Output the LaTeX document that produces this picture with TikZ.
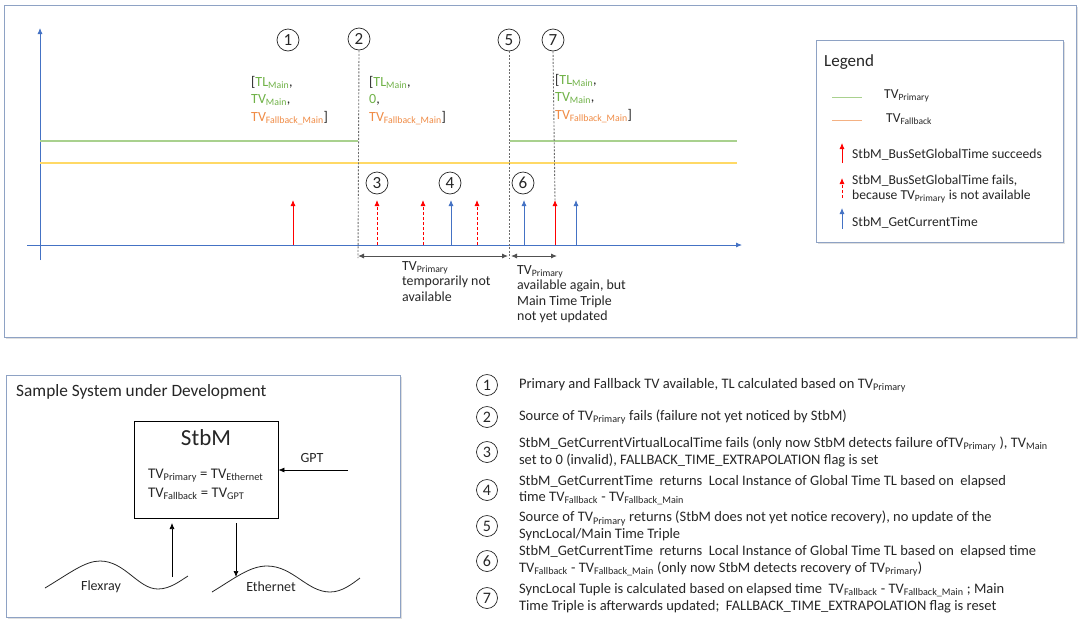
\documentclass[tikz,border=0pt]{standalone}
\usepackage{fontspec}
\setmainfont{Carlito}
\usetikzlibrary{positioning,shadows,arrows.meta}
\definecolor{axisblue}{HTML}{4472C4}
\definecolor{primgreen}{HTML}{A9D18E}
\definecolor{fallyellow}{HTML}{FFD966}
\definecolor{fallorange}{HTML}{F4B183}
\definecolor{txtgreen}{RGB}{112,178,72}
\definecolor{txtorange}{RGB}{240,140,70}
\definecolor{framegray}{HTML}{8EA2C4}
\definecolor{txtgray}{HTML}{262626}
\newcommand{\sbs}[1]{\textsubscript{#1}}
\newcommand{\tgr}[1]{\textcolor{txtgreen}{#1}}
\newcommand{\tor}[1]{\textcolor{txtorange}{#1}}
\tikzset{
  frame/.style     = {draw=framegray, line width=0.9pt, fill=white,
                      drop shadow={shadow xshift=2pt, shadow yshift=-2pt, opacity=0.25}},
  num/.style       = {circle, draw=txtgray, line width=0.7pt, inner sep=0pt,
                      minimum size=22pt, font=\fontsize{17}{17}\selectfont},
  listnum/.style   = {num, minimum size=21pt, font=\fontsize{16}{16}\selectfont},
  item/.style      = {align=left, inner sep=0pt, text=txtgray,
                      font=\fontsize{14.5}{16.5}\selectfont},
  lgditem/.style   = {item, anchor=west, font=\fontsize{13.6}{15.5}\selectfont},
  triple/.style    = {align=left, anchor=north west, inner sep=0pt,
                      font=\fontsize{14}{17.5}\selectfont},
  note/.style      = {align=left, anchor=north west, inner sep=0pt, text=txtgray,
                      font=\fontsize{13.9}{15.5}\selectfont},
  marker/.style    = {draw=gray!85!black, line width=0.9pt, dash pattern=on 2pt off 1.5pt},
  span/.style      = {draw=txtgray!80, line width=0.9pt, {Latex[length=6pt,width=5pt]}-{Latex[length=6pt,width=5pt]}},
  evtip/.style     = {-{Latex[length=6pt,width=5pt]}},
  okev/.style      = {draw=red, line width=0.8pt, evtip},
  failev/.style    = {draw=red, line width=0.8pt, dash pattern=on 3pt off 2pt, evtip},
  getev/.style     = {draw=axisblue, line width=0.8pt, evtip},
  sysarrow/.style  = {draw=black, line width=0.7pt, -{Latex[length=6pt,width=5pt]}},
  wave/.style      = {draw=txtgray, line width=0.8pt},
}

\begin{document}
\begin{tikzpicture}
  [
    x = 1pt,
    y = -1pt,
    every node/.style = {text=txtgray}
  ]
  \useasboundingbox (0,0) rectangle (1080,630);

  % time chart
  \draw[frame] (4,5) rectangle (1076,337);
  \coordinate (yaxb) at (40,260);
  \coordinate (yaxt) at (40,28);
  \coordinate (xaxl) at (27,245);
  \coordinate (xaxr) at (742,245);
  \draw[axisblue, line width=0.8pt, evtip] (yaxb) -- (yaxt);
  \draw[axisblue, line width=0.8pt, evtip] (xaxl) -- (xaxr);

  % TV lines
  \draw[primgreen, line width=1.2pt] (40,141) -- (358,141);
  \draw[primgreen, line width=1.2pt] (510,141) -- (737,141);
  \draw[fallyellow, line width=1.2pt] (40,163) -- (737,163);

  % circled steps and markers
  \node[num] (n1) at (288,40) {1};
  \node[num] (n2) at (359,39) {2};
  \node[num] (n5) at (509,40) {5};
  \node[num] (n7) at (553,40) {7};
  \node[num] (n3) at (377,183) {3};
  \node[num] (n4) at (450,183) {4};
  \node[num] (n6) at (523,183) {6};
  \coordinate (m2) at (358,258);
  \coordinate (m5) at (509,258);
  \coordinate (m7) at (555,200);
  \draw[marker] (n2.south) -- (m2);
  \draw[marker] (n5.south) -- (m5);
  \draw[marker] (n7.south) -- (m7);

  % events on the time axis
  \foreach \x/\s [count=\i] in {293/okev, 377/failev, 423/failev, 451/getev,
                                477/failev, 524/getev, 555/okev, 576/getev}
  {
    \coordinate (evb\i) at (\x,245);
    \coordinate (evt\i) at (\x,200);
    \draw[\s] (evb\i) -- (evt\i);
  }

  % time triples
  \node[triple] (tr1) at (251,76) {[\tgr{TL\sbs{Main}},\\\tgr{TV\sbs{Main}},\\\tor{TV\sbs{Fallback\_Main}}]};
  \node[triple] (tr2) at (369,76) {[\tgr{TL\sbs{Main}},\\\tgr{0},\\\tor{TV\sbs{Fallback\_Main}}]};
  \node[triple] (tr7) at (555,74) {[\tgr{TL\sbs{Main}},\\\tgr{TV\sbs{Main}},\\\tor{TV\sbs{Fallback\_Main}}]};

  % outage spans
  \coordinate (sp1a) at (358,256);
  \coordinate (sp1b) at (508,256);
  \coordinate (sp2a) at (511,256);
  \coordinate (sp2b) at (557,256);
  \draw[span] (sp1a) -- (sp1b);
  \draw[span] (sp2a) -- (sp2b);
  \node[note] (sp1txt) at (402,261) {TV\sbs{Primary}\\temporarily not\\available};
  \node[note] (sp2txt) at (517,265) {TV\sbs{Primary}\\available again, but\\Main Time Triple\\not yet updated};

  % legend
  \draw[frame] (816,40) rectangle (1063,242);
  \node[anchor=west, inner sep=0pt, font=\fontsize{17}{17}\selectfont] (lgd) at (824,62) {Legend};
  \coordinate (lgpa) at (832,97);
  \coordinate (lgpb) at (862,97);
  \coordinate (lgfa) at (832,120);
  \coordinate (lgfb) at (862,120);
  \draw[primgreen, line width=1pt] (lgpa) -- (lgpb);
  \draw[fallorange, line width=1pt] (lgfa) -- (lgfb);
  \node[lgditem] (lgptxt) at (884,96) {TV\sbs{Primary}};
  \node[lgditem] (lgftxt) at (886,119) {TV\sbs{Fallback}};
  \coordinate (lgoka) at (842,163);
  \coordinate (lgokb) at (842,143);
  \coordinate (lgfla) at (842,198);
  \coordinate (lgflb) at (842,178);
  \coordinate (lggta) at (842,229);
  \coordinate (lggtb) at (842,208);
  \draw[okev] (lgoka) -- (lgokb);
  \draw[failev] (lgfla) -- (lgflb);
  \draw[getev] (lggta) -- (lggtb);
  \node[lgditem] (lgoktxt) at (852,155) {StbM\_BusSetGlobalTime succeeds};
  \node[lgditem] (lgfltxt) at (852,189) {StbM\_BusSetGlobalTime fails,\\because TV\sbs{Primary} is not available};
  \node[lgditem] (lggttxt) at (852,223) {StbM\_GetCurrentTime};

  % sample system
  \draw[frame] (6,375) rectangle (400,617);
  \node[anchor=west, inner sep=0pt, font=\fontsize{17.3}{17.3}\selectfont] (systitle) at (16,392) {Sample System under Development};
  \node[draw=black, line width=0.8pt, minimum width=144pt, minimum height=97pt, inner sep=0pt] (stbm) at (206,470) {};
  \node[font=\fontsize{23}{23}\selectfont, below=5pt of stbm.north] (stbmname) {StbM};
  \node[anchor=north west, align=left, inner sep=0pt, font=\fontsize{14.7}{19}\selectfont] (stbmeq) at (148,469)
    {TV\sbs{Primary} = TV\sbs{Ethernet}\\TV\sbs{Fallback} = TV\sbs{GPT}};
  \coordinate (gptsrc) at (348,470);
  \draw[sysarrow] (gptsrc) -- (stbm.east |- gptsrc);
  \node[font=\fontsize{14}{14}\selectfont] (gpt) at (312,458) {GPT};
  \coordinate (flxbot) at (172,577);
  \coordinate (flxtop) at (172,523);
  \coordinate (ethtop) at (236,523);
  \coordinate (ethbot) at (236,577);
  \draw[sysarrow] (flxbot) -- (flxtop);
  \draw[sysarrow] (ethtop) -- (ethbot);
  \draw[wave] (45,588) .. controls (70,573) and (85,561) .. (100,561)
                       .. controls (125,561) and (138,589) .. (158,589)
                       .. controls (170,589) and (180,581) .. (188,576);
  \draw[wave] (212,592) .. controls (235,578) and (250,566) .. (267,566)
                        .. controls (293,566) and (307,592) .. (330,592)
                        .. controls (342,592) and (352,584) .. (360,578);
  \node[font=\fontsize{14}{14}\selectfont] (flexray) at (101,587) {Flexray};
  \node[font=\fontsize{14}{14}\selectfont] (ethernet) at (271,587) {Ethernet};

  % step descriptions
  \node[listnum] (l1) at (487,385) {1};
  \node[listnum] (l2) at (487,417) {2};
  \node[listnum] (l3) at (487,452) {3};
  \node[listnum] (l4) at (487,490) {4};
  \node[listnum] (l5) at (487,526) {5};
  \node[listnum] (l6) at (487,561) {6};
  \node[listnum] (l7) at (487,598) {7};
  \node[item, right=21pt of l1] (d1) {Primary and Fallback TV available, TL calculated based on TV\sbs{Primary}};
  \node[item, right=21pt of l2] (d2) {Source of TV\sbs{Primary} fails (failure not yet noticed by StbM)};
  \node[item, right=21pt of l3] (d3) {StbM\_GetCurrentVirtualLocalTime fails (only now StbM detects failure ofTV\sbs{Primary} ), TV\sbs{Main}\\set to 0 (invalid), FALLBACK\_TIME\_EXTRAPOLATION flag is set};
  \node[item, right=21pt of l4] (d4) {StbM\_GetCurrentTime\ \ returns\ \ Local Instance of Global Time TL based on\ \ elapsed\\time TV\sbs{Fallback} - TV\sbs{Fallback\_Main}};
  \node[item, right=21pt of l5] (d5) {Source of TV\sbs{Primary} returns (StbM does not yet notice recovery), no update of the\\SyncLocal/Main Time Triple};
  \node[item, right=21pt of l6] (d6) {StbM\_GetCurrentTime\ \ returns\ \ Local Instance of Global Time TL based on\ \ elapsed time\\TV\sbs{Fallback} - TV\sbs{Fallback\_Main} (only now StbM detects recovery of TV\sbs{Primary})};
  \node[item, right=21pt of l7] (d7) {SyncLocal Tuple is calculated based on elapsed time\ \ TV\sbs{Fallback} - TV\sbs{Fallback\_Main} ; Main\\Time Triple is afterwards updated;\ \ FALLBACK\_TIME\_EXTRAPOLATION flag is reset};
\end{tikzpicture}
\end{document}
